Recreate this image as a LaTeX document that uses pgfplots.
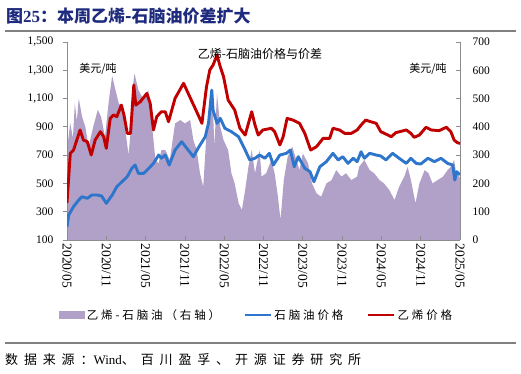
\documentclass[border=0pt]{standalone}
\usepackage{pgfplots}
\pgfplotsset{compat=1.18}
\usepackage{fontspec}
\setmainfont{Liberation Serif}
\newfontfamily\cjk{Noto Sans CJK SC}
\newfontfamily\cjksp[LetterSpace=25]{Noto Sans CJK SC}
\newfontfamily\cjkspw[LetterSpace=45]{Noto Sans CJK SC}
\definecolor{spread}{RGB}{177,160,199}
\definecolor{naph}{RGB}{46,117,204}
\definecolor{eth}{RGB}{192,0,0}
\definecolor{ttl}{RGB}{30,42,125}
\definecolor{rulec}{RGB}{128,128,128}
\definecolor{axc}{RGB}{140,140,140}

\pgfplotstableread{
m v
0.0 320
0.5 413
0.9 360
1.2 484
1.5 420
1.8 500
2.3 436
2.8 400
3.3 330
4.0 400
4.7 460
5.2 436
5.8 365
6.4 495
6.9 580
7.3 540
7.9 483
8.4 471
8.9 389
9.4 300
9.7 380
10.0 530
10.3 589
10.9 530
11.7 495
12.4 530
13.0 400
13.5 283
14.0 271
14.4 318
15.0 318
15.7 283
16.5 412
17.3 424
18.0 412
18.8 424
19.3 353
19.8 318
20.3 236
20.8 188
21.3 377
21.8 471
22.2 518
22.5 330
22.9 518
23.4 400
23.9 353
24.6 318
25.1 236
25.6 200
26.2 130
26.7 106
27.2 177
27.7 259
28.2 318
28.7 236
29.4 318
29.7 224
30.4 236
31.2 283
31.7 236
32.2 153
32.6 71
33.1 212
33.7 295
34.4 330
35.0 283
35.5 247
36.0 306
36.8 271
37.4 200
38.1 165
38.8 153
39.6 200
40.4 212
41.1 247
41.9 224
42.6 236
43.4 212
44.3 224
44.6 259
45.4 283
46.2 247
46.9 236
47.7 212
48.4 200
49.2 177
50.0 141
50.7 188
51.5 224
52.0 259
52.5 212
53.2 130
53.8 200
54.6 247
55.2 236
55.8 200
56.6 212
57.4 224
58.1 247
58.6 259
59.1 283
59.4 236
59.9 224
60.0 220
}\spreadtab

\pgfplotstableread{
m v
0.0 194
0.26 277
1.0 336
1.8 383
2.3 406
3.1 395
3.8 418
4.6 418
5.3 411
6.0 359
6.9 418
7.6 477
8.4 512
9.2 548
9.9 607
10.4 630
10.9 571
11.7 571
12.5 607
13.2 642
14.0 701
14.4 678
15.0 701
15.6 630
16.5 736
17.5 795
18.3 748
19.3 689
20.0 748
21.1 830
21.6 925
22.1 1160
22.3 1019
22.9 925
23.4 960
24.1 890
25.1 866
26.2 830
27.2 736
27.9 666
28.7 678
29.4 701
30.2 678
30.9 713
31.5 630
32.5 701
33.5 713
34.1 736
34.7 618
35.3 689
36.3 607
37.1 583
37.7 512
38.6 618
39.6 654
40.6 713
41.4 666
42.1 689
42.9 642
43.7 678
44.3 654
44.9 724
45.4 678
46.2 713
47.2 701
47.9 694
48.7 666
49.7 713
50.7 678
51.8 642
52.5 678
53.3 642
54.0 637
55.1 678
56.1 654
57.1 678
58.1 642
58.9 630
59.2 524
59.5 583
60.0 560
}\naphtab

\pgfplotstableread{
m v
0.0 362
0.23 520
0.5 713
1.0 736
1.5 807
2.0 878
2.5 807
3.1 795
3.7 701
4.3 807
5.1 866
5.6 830
6.0 748
6.6 960
7.1 984
7.6 972
8.3 1054
8.7 984
9.2 854
9.7 854
10.2 1196
10.5 1054
11.2 1078
12.2 1137
12.7 1066
13.2 878
13.7 972
14.4 1007
15.0 1007
15.5 936
16.5 1102
17.8 1208
18.5 1137
19.8 1007
20.6 925
21.3 1184
21.8 1302
22.3 1337
22.9 1408
23.4 1325
23.9 1255
24.6 1090
25.6 1019
26.4 890
27.2 842
27.7 925
28.2 1007
28.7 913
29.2 842
29.9 878
31.2 890
31.7 866
32.5 772
33.0 830
33.6 960
34.5 948
35.5 925
36.3 854
37.2 736
38.1 760
39.1 819
40.1 819
40.6 890
41.6 878
42.4 854
43.4 854
44.3 878
44.9 913
45.6 948
46.4 936
47.2 925
47.9 866
49.0 842
49.5 830
50.2 859
51.8 878
52.5 854
53.0 826
53.8 842
54.8 897
55.6 878
56.8 873
57.9 897
58.6 866
59.1 807
59.6 788
60.0 783
}\ethtab

\begin{document}
\begin{tikzpicture}[x=1pt,y=1pt]
\path[use as bounding box] (0,0) rectangle (521,373);
% title and rules
\node[anchor=west, inner sep=0pt, text=ttl, font=\fontsize{17}{18}\selectfont\bfseries] at (6,357) {{\cjk 图}25{\cjk ：本周乙烯-石脑油价差扩大}};
\draw[rulec, line width=1.8pt] (5,342) -- (516,342);
\draw[rulec, line width=1.4pt] (5,30) -- (516,30);
\node[anchor=west, inner sep=0pt, font=\fontsize{13}{14}\selectfont] at (5,13) {{\cjkspw 数据来源：}Wind{\cjkspw 、百川盈孚、开源证券研究所}};

% right axis: spread area
\begin{axis}[
  at={(67pt,133pt)}, anchor=south west,
  width=393pt, height=198pt, scale only axis,
  xmin=0, xmax=60, ymin=0, ymax=700,
  axis x line=none,
  axis y line*=right,
  y axis line style={axc, line width=0.8pt},
  ytick={0,100,...,700},
  major tick length=4pt,
  ytick style={axc, line width=0.8pt},
  tick align=inside,
  yticklabel style={font=\fontsize{11.5}{12}\selectfont, xshift=9pt},
  /pgf/number format/assume math mode=true,
]
\addplot[fill=spread, draw=none] table[x=m, y=v] {\spreadtab} \closedcycle;
\end{axis}

% left axis: price lines
\begin{axis}[
  at={(67pt,133pt)}, anchor=south west,
  width=393pt, height=198pt, scale only axis,
  xmin=0, xmax=60, ymin=100, ymax=1500,
  axis x line*=bottom,
  axis y line*=left,
  axis line style={axc, line width=0.8pt},
  xtick={0,6,...,60},
  xticklabels={2020/05,2020/11,2021/05,2021/11,2022/05,2022/11,2023/05,2023/11,2024/05,2024/11,2025/05},
  xticklabel style={rotate=-90, anchor=west, font=\fontsize{13.5}{14}\selectfont},
  ytick={100,300,...,1500},
  yticklabel style={font=\fontsize{11.5}{12}\selectfont, xshift=-6pt},
  /pgf/number format/1000 sep={,},
  /pgf/number format/assume math mode=true,
  major tick length=4pt,
  tick style={axc, line width=0.8pt},
  ytick align=outside,
  xtick align=inside,
  legend style={at={(0.483,-0.379)}, anchor=center, draw=none, fill=none,
    legend columns=3, font=\fontsize{11.5}{12}\selectfont\cjksp,
    /tikz/every even column/.append style={column sep=22pt}},
  legend cell align=left,
]
\addlegendimage{legend image code/.code={\fill[spread] (0pt,-3.5pt) rectangle (25pt,3.5pt);}}
\addlegendentry{乙烯-石脑油（右轴）}
\addplot[naph, line width=2.9pt, line join=round, legend image code/.code={\draw[naph, line width=2.2pt] (0pt,0pt) -- (26pt,0pt);}] table[x=m, y=v] {\naphtab};
\addlegendentry{石脑油价格}
\addplot[eth, line width=2.9pt, line join=round, legend image code/.code={\draw[eth, line width=2.2pt] (0pt,0pt) -- (26pt,0pt);}] table[x=m, y=v] {\ethtab};
\addlegendentry{乙烯价格}
\end{axis}

\node[font=\fontsize{12}{12}\selectfont\cjk] at (260,319) {乙烯-石脑油价格与价差};
\node[font=\fontsize{11}{11}\selectfont\cjk] at (98,304) {美元/吨};
\node[font=\fontsize{11}{11}\selectfont\cjk] at (428,304) {美元/吨};
\end{tikzpicture}
\end{document}
